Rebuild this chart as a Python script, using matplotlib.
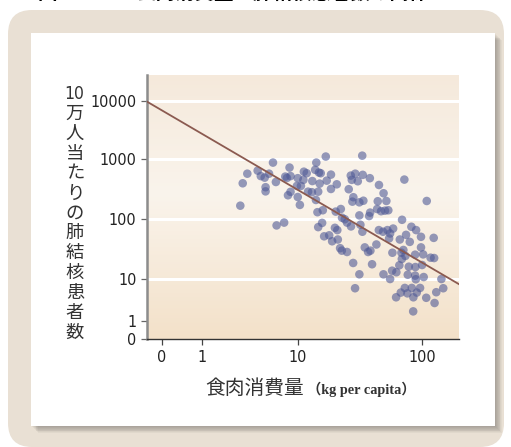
import numpy as np
import matplotlib
matplotlib.use("Agg")
import matplotlib.pyplot as plt
from matplotlib import font_manager
from matplotlib.patches import FancyBboxPatch, Rectangle

# meat consumption (kg per capita) vs. tuberculosis cases per 100,000
meat = [2.5, 2.65, 2.96, 3.8, 4.1, 4.5, 4.6, 4.6, 5.0, 5.5, 5.9, 6.0, 7.2, 7.4, 8.2, 8.4, 7.9, 8.4, 10.0, 10.0,
        9.8, 7.7, 16.8, 33, 14.1, 11.2, 11.8, 13.8, 14.8, 15.3, 18.5, 26.7, 29, 33.3, 38, 72, 11.1, 13.1, 15.0, 17.1,
        20.6, 27.2, 30.4, 45, 18.5, 25.7, 10.6, 12.1, 13.0, 14.6, 49, 28, 27.5, 31.3, 33.7, 44, 51.6, 109, 14.0, 10.4,
        22.2, 20.2, 14.4, 15.9, 31.3, 38.2, 37.5, 43.5, 46.8, 50.3, 53.5, 22.7, 23.9, 69, 15.7, 14.6, 24.9, 26.8, 31.9, 19.9,
        20.8, 44.9, 48.5, 52.6, 55.3, 58.5, 82, 89.5, 16.3, 17.9, 21, 18.9, 33.1, 54.3, 66.2, 74.3, 79.6, 98, 124, 21.9,
        22.6, 24.9, 34.6, 38.4, 36.8, 42.9, 57.7, 68.2, 70.7, 73.4, 68.7, 87.9, 98, 102, 117, 125, 27.9, 39.6, 65.6, 78.2,
        88.3, 100, 31.3, 48.9, 57.4, 62.1, 55.3, 76.7, 87.9, 103, 89, 143, 28.9, 67.4, 72.6, 76.2, 82.6, 90.6, 96.3, 61.8,
        85.1, 108, 130, 148, 126, 84.8]
tb = [168, 395, 570, 640, 520, 490, 340, 290, 570, 870, 415, 79, 88, 510, 720, 520, 250, 285, 480, 234,
      357, 484, 1100, 1140, 870, 615, 580, 660, 595, 580, 550, 530, 570, 545, 480, 455, 450, 430, 390, 437,
      380, 450, 427, 370, 318, 315, 357, 287, 281, 287, 270, 232, 196, 191, 203, 199, 201, 201, 209, 173,
      148, 134, 131, 141, 116, 129, 113, 148, 136, 139, 141, 106, 100, 98, 87, 74, 88, 76, 81, 72,
      66, 66, 62, 66, 58, 70, 75, 66, 52, 54, 46, 43, 62, 48, 46, 55, 42, 51, 49, 33,
      30, 28.5, 34, 30, 28.5, 38, 27.7, 27.7, 30.8, 24.5, 21.8, 25.7, 34, 26, 22.9, 22.6, 18.7, 17.8, 17.1, 16.2,
      16, 17.3, 12.1, 12.1, 13.9, 13.1, 10.1, 11.9, 11.5, 10.9, 10, 10.1, 6.1, 4.8, 6.2, 4.6, 6.2, 4.8, 6.2, 3.7,
      3.7, 3.6, 4.9, 6.1, 2.7, 1.7]

# fitted trend line end points
fit_x = [-0.36, 197]
fit_y = [9700, 7.7]

x_ticks = [0, 1, 10, 100]
y_ticks = [0, 1, 10, 100, 1000, 10000]
grid_y = [10, 100, 1000, 10000]

# hand-drawn axes: linear below 1, uneven decades above
X_LOG = [0, 1, 2, 3]
X_POS = [40.6, 136.0, 260.3, 384.6]
Y_LOG = [0, 1, 2, 3, 4, 5]
Y_POS = [18.3, 60.0, 120.0, 180.3, 238.3, 296.3]


def make_scale(lin, logs, pos):
    def fwd(v):
        v = np.asarray(v, float)
        with np.errstate(divide="ignore", invalid="ignore"):
            lg = np.log10(np.where(v > 0, v, 1.0))
        return np.where(v < 1, v * lin, np.interp(lg, logs, pos))

    def inv(p):
        p = np.asarray(p, float)
        return np.where(p < lin, p / lin, 10 ** np.interp(p, pos, logs))
    return fwd, inv


# narrow digits for the tick labels, whatever condensed face is around
fonts = font_manager.fontManager.ttflist
names = {f.name for f in fonts}
num_font = dict(family="Liberation Sans", stretch="normal", size=11.2)
if "Liberation Sans Narrow" in names:
    num_font = dict(family="Liberation Sans Narrow", stretch="normal", size=12.5)
elif any(f.name == "DejaVu Sans" and f.stretch == "condensed" for f in fonts):
    num_font = dict(family="DejaVu Sans", stretch="condensed", size=11.5)
cjk = "Noto Sans CJK JP"

W, H = 511, 447
fig = plt.figure(figsize=(W / 100, H / 100), dpi=100)
fig.patch.set_facecolor("white")


def fx(x):
    return x / W


def fy(y):
    return 1 - y / H


# beige frame and white card with a soft shadow
tr = matplotlib.transforms.IdentityTransform()
fig.add_artist(FancyBboxPatch((8, 0), 496, 437, boxstyle="round,pad=0,rounding_size=24",
                              facecolor="#e9e0d4", edgecolor="none", transform=tr, zorder=0))
for i in range(1, 9):
    fig.add_artist(Rectangle((31 + i * 0.9, 21 - i * 0.9), 464, 393, facecolor="black",
                             edgecolor="none", alpha=0.035, transform=tr, zorder=1))
fig.add_artist(Rectangle((31, 21), 464, 393, facecolor="white", edgecolor="none", transform=tr, zorder=2))

# title (runs off the top edge)
fig.text(fx(38), fy(3), "図1", fontsize=14, fontweight="bold", family=[cjk], va="bottom", zorder=3)
fig.text(fx(137), fy(3), "食肉消費量と肺結核患者数の関係", fontsize=14, fontweight="bold",
         family=[cjk], va="bottom", zorder=3)

pos = [fx(146.7), 1 - 339.3 / H, 312 / W, 264.3 / H]

# gradient backdrop
bg = fig.add_axes(pos, zorder=3)
stops = np.array([[245, 233, 219], [250, 244, 236], [243, 225, 201]]) / 255
t = np.linspace(0, 1, 256)
grad = np.stack([np.interp(t, [0, 0.45, 1], stops[:, c]) for c in range(3)], axis=1)
bg.imshow(grad[:, None, :], aspect="auto", extent=[0, 1, 0, 1])
bg.axis("off")

ax = fig.add_axes(pos, zorder=4)
ax.patch.set_alpha(0)
ax.set_xscale("function", functions=make_scale(40.6, X_LOG, X_POS))
ax.set_yscale("function", functions=make_scale(18.3, Y_LOG, Y_POS))

for g in grid_y:
    ax.axhline(g, color="white", lw=2.2, zorder=1)

ax.scatter(meat, tb, s=38, color="#505a96", alpha=0.6, edgecolors="none", zorder=3)
ax.plot(fit_x, fit_y, color="#8b5a50", lw=1.3, zorder=4)

ax.set_xlim(-0.37, 197)
ax.set_ylim(0, 28000)
ax.set_xticks(x_ticks, [str(v) for v in x_ticks])
ax.set_yticks(y_ticks, [str(v) for v in y_ticks])
ax.minorticks_off()

for s in ["top", "right"]:
    ax.spines[s].set_visible(False)
ax.spines["left"].set_color("#8c8c8c")
ax.spines["left"].set_linewidth(1.8)
ax.spines["bottom"].set_color("#333333")
ax.spines["bottom"].set_linewidth(1.0)

ax.tick_params(axis="y", length=4.3, width=0.9, color="#666666", pad=3, labelcolor="#222222")
ax.tick_params(axis="x", length=4, width=0.9, color="#444444", pad=4, labelcolor="#222222")
for lab in ax.get_xticklabels() + ax.get_yticklabels():
    lab.set_family(num_font["family"])
    lab.set_stretch(num_font["stretch"])
    lab.set_size(num_font["size"])

# vertical y-axis title, one character per line
ylab = ["10", "万", "人", "当", "た", "り", "の", "肺", "結", "核", "患", "者", "数"]
for i, ch in enumerate(ylab):
    if ch.isdigit():
        fig.text(fx(74), fy(94), ch, fontsize=num_font["size"] + 1, family=num_font["family"],
                 stretch=num_font["stretch"], color="#333333", ha="center", va="center", zorder=5)
    else:
        fig.text(fx(75), fy(94 + i * 19.9), ch, fontsize=13.2, family=[cjk],
                 color="#333333", ha="center", va="center", zorder=5)

fig.text(fx(205), fy(388), "食肉消費量", fontsize=14.2, family=[cjk], color="#333333",
         ha="left", va="center", zorder=5)
fig.text(fx(307), fy(389), "（kg per capita）", fontsize=10.3, fontweight="bold",
         family=["Liberation Serif", cjk], color="#333333", ha="left", va="center", zorder=5)

fig.savefig("out.png", dpi=100)
